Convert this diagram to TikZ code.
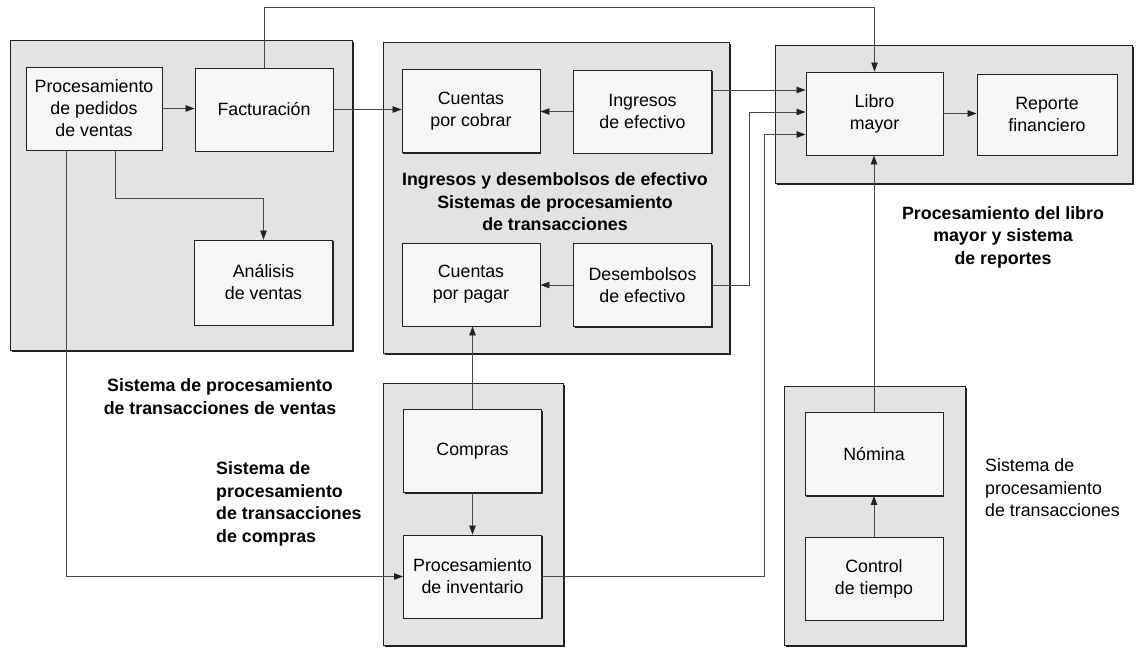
\documentclass[tikz,border=0pt]{standalone}
\usepackage{fontspec}
\setmainfont{Liberation Sans}
\usetikzlibrary{arrows.meta,shadows,calc}

\definecolor{panelgray}{HTML}{E3E3E3}
\definecolor{boxwhite}{HTML}{F7F7F7}
\definecolor{edge}{HTML}{222222}
\definecolor{wire}{HTML}{484848}

\newcommand\dgboxfont{\fontsize{17.8}{22}\selectfont}
\newcommand\dgcapfont{\fontsize{17.8}{22.5}\selectfont\bfseries}
\newcommand\dgplainfont{\fontsize{17.8}{22.5}\selectfont}

\tikzset{
  panel/.style={fill=panelgray, draw=edge, line width=0.9pt,
    drop shadow={shadow xshift=1.6pt, shadow yshift=-1.6pt, opacity=1, fill=edge}},
  procbox/.style={draw=edge, fill=boxwhite, line width=0.9pt,
    minimum width=138pt, minimum height=83pt, inner sep=0pt,
    align=center, font=\dgboxfont,
    drop shadow={shadow xshift=1.4pt, shadow yshift=-1.4pt, opacity=1, fill=edge}},
  caption/.style={font=\dgcapfont, inner sep=0pt},
  plaincaption/.style={font=\dgplainfont, inner sep=0pt},
  flow/.style={draw=wire, line width=0.8pt,
    -{Triangle[length=9pt,width=6.5pt,color=edge]}}
}

\begin{document}
\begin{tikzpicture}[x=1pt, y=-1pt]
  \useasboundingbox (0,0) rectangle (1137,648);

  % system panels
  \path[panel] (10,40)   rectangle (352,350);   % sales
  \path[panel] (383,42)  rectangle (729,353);   % cash receipts / disbursements
  \path[panel] (775,45)  rectangle (1132,183);  % general ledger
  \path[panel] (383,383) rectangle (563,645);   % purchasing
  \path[panel] (784,386) rectangle (965,645);   % payroll

  % processing boxes
  \node[procbox, minimum width=136pt] (pedidos) at (94,108.5) {Procesamiento\\de pedidos\\de ventas};
  \node[procbox] (fact)       at (264,109.5)  {Facturación};
  \node[procbox, minimum height=85pt] (analisis) at (263.5,282.5) {Análisis\\de ventas};

  \node[procbox] (cxc)        at (471,111)    {Cuentas\\por cobrar};
  \node[procbox] (ingresos)   at (642.5,111.5) {Ingresos\\de efectivo};
  \node[procbox] (cxp)        at (471,284.5)  {Cuentas\\por pagar};
  \node[procbox] (desemb)     at (642.5,285)  {Desembolsos\\de efectivo};

  \node[procbox, minimum width=137pt] (libro) at (874.5,113.5) {Libro\\mayor};
  \node[procbox, minimum width=140pt, minimum height=81pt] (reporte) at (1047,114.5) {Reporte\\financiero};

  \node[procbox] (compras)    at (472.5,451)  {Compras};
  \node[procbox] (inventario) at (472.5,576.5) {Procesamiento\\de inventario};

  \node[procbox] (nomina)     at (874,454)    {Nómina};
  \node[procbox] (control)    at (874,578.5)  {Control\\de tiempo};

  % captions
  \node[caption, align=center] (capventas) at (220,396.5)
    {Sistema de procesamiento\\de transacciones de ventas};
  \node[caption, align=center] (capcaja) at (555,202)
    {Ingresos y desembolsos de efectivo\\Sistemas de procesamiento\\de transacciones};
  \node[caption, align=left, anchor=west] (capcompras) at (216,504)
    {Sistema de\\procesamiento\\de transacciones\\de compras};
  \node[caption, align=center] (caplibro) at (1003,237)
    {Procesamiento del libro\\mayor y sistema\\de reportes};
  \node[plaincaption, align=left, anchor=west] (capnomina) at (985,488)
    {Sistema de\\procesamiento\\de transacciones};

  % sales flows
  \draw[flow] (pedidos.east) -- (pedidos.east -| fact.west);
  \draw[flow] ([xshift=21pt]pedidos.south) -- ++(0,48) -| (analisis.north);
  \draw[flow] ([xshift=-28pt]pedidos.south) |- (inventario.west);
  \draw[flow] (fact.north) -- ++(0,-60) -| (libro.north);
  \draw[flow] (fact.east) -- (fact.east -| cxc.west);

  % cash flows
  \draw[flow] (ingresos.west) -- (ingresos.west -| cxc.east);
  \draw[flow] ([yshift=21.5pt]ingresos.east) -- ([yshift=21.5pt]ingresos.east -| libro.west);
  \draw[flow] (desemb.west) -- (desemb.west -| cxp.east);
  \draw[flow] (desemb.east) -- ++(37,0) |- ([yshift=1.5pt]libro.west);

  % purchasing flows
  \draw[flow] (compras.north) -- (compras.north |- cxp.south);
  \draw[flow] (compras.south) -- (inventario.north);
  \draw[flow] (inventario.east) -- ++(222,0) |- ([yshift=-21pt]libro.west);

  % ledger and payroll flows
  \draw[flow] (libro.east) -- (libro.east -| reporte.west);
  \draw[flow] (nomina.north) -- (nomina.north |- libro.south);
  \draw[flow] (control.north) -- (nomina.south);
\end{tikzpicture}
\end{document}
